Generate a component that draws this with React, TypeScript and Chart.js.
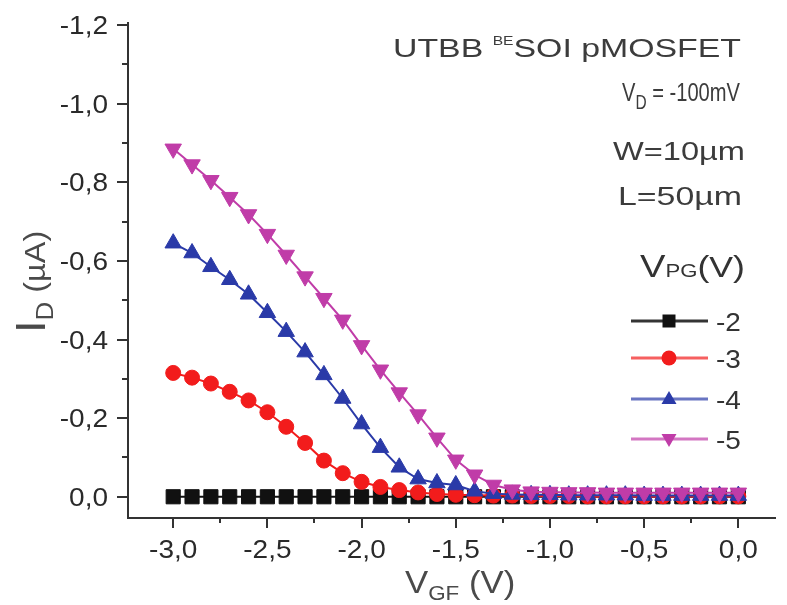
import React, { useEffect, useRef } from "react";
import { Chart, registerables } from "chart.js";

Chart.register(...registerables);

// V_GF (V)
const xValues = [
  -3.0, -2.9, -2.8, -2.7, -2.6, -2.5, -2.4, -2.3, -2.2, -2.1, -2.0,
  -1.9, -1.8, -1.7, -1.6, -1.5, -1.4, -1.3, -1.2, -1.1, -1.0,
  -0.9, -0.8, -0.7, -0.6, -0.5, -0.4, -0.3, -0.2, -0.1, 0.0,
];

// I_D (µA) for each V_PG
const idVpgMinus2 = [
  0, 0, 0, 0, 0, 0, 0, 0, 0, 0, 0,
  0, 0, 0, 0, 0, 0, 0, 0, 0, 0,
  0, 0, 0, 0, 0, 0, 0, 0, 0, 0,
];
const idVpgMinus3 = [
  -0.315, -0.303, -0.288, -0.267, -0.245, -0.215, -0.178, -0.137, -0.092, -0.06, -0.038,
  -0.025, -0.017, -0.011, -0.007, -0.005, -0.004, -0.003, -0.003, -0.002, -0.002,
  -0.002, -0.001, -0.001, -0.001, -0.001, -0.001, -0.001, -0.001, -0.001, -0.001,
];
const idVpgMinus4 = [
  -0.645, -0.62, -0.585, -0.552, -0.515, -0.468, -0.42, -0.368, -0.31, -0.25, -0.185,
  -0.125, -0.075, -0.045, -0.035, -0.03, -0.014, -0.008, -0.006, -0.005, -0.005,
  -0.004, -0.004, -0.004, -0.004, -0.003, -0.003, -0.003, -0.003, -0.003, -0.003,
];
const idVpgMinus5 = [
  -0.885, -0.845, -0.805, -0.762, -0.718, -0.668, -0.615, -0.56, -0.505, -0.45, -0.385,
  -0.323, -0.265, -0.209, -0.15, -0.094, -0.056, -0.03, -0.018, -0.013, -0.012,
  -0.011, -0.011, -0.01, -0.01, -0.01, -0.01, -0.01, -0.01, -0.01, -0.01,
];

const seriesLabels = ["-2", "-3", "-4", "-5"];
const seriesColors = ["#111111", "#f21c1c", "#2a3aa8", "#c03ca8"];

const yMajorTicks = [-1.2, -1.0, -0.8, -0.6, -0.4, -0.2, 0.0];
const yTickLabels = ["-1,2", "-1,0", "-0,8", "-0,6", "-0,4", "-0,2", "0,0"];
const yMinorTicks = [-1.1, -0.9, -0.7, -0.5, -0.3, -0.1];
const xMajorTicks = [-3.0, -2.5, -2.0, -1.5, -1.0, -0.5, 0.0];
const xTickLabels = ["-3,0", "-2,5", "-2,0", "-1,5", "-1,0", "-0,5", "0,0"];
const xMinorTicks = [-2.75, -2.25, -1.75, -1.25, -0.75, -0.25];

const FONT = '"Liberation Sans", Arial, sans-serif';

type Part = { t: string; size: number; dy?: number };

function partsWidth(ctx: CanvasRenderingContext2D, parts: Part[]) {
  let w = 0;
  for (const p of parts) {
    ctx.font = `${p.size}px ${FONT}`;
    w += ctx.measureText(p.t).width;
  }
  return w;
}

// draws a run of text pieces on a baseline; stretch is horizontal scale
function drawRich(
  ctx: CanvasRenderingContext2D,
  parts: Part[],
  x: number,
  y: number,
  align: "left" | "right" | "center",
  color: string,
  stretch: number
) {
  const w = partsWidth(ctx, parts) * stretch;
  let start = x;
  if (align === "right") start = x - w;
  if (align === "center") start = x - w / 2;
  ctx.save();
  ctx.fillStyle = color;
  ctx.textAlign = "left";
  ctx.textBaseline = "alphabetic";
  ctx.translate(start, y);
  ctx.scale(stretch, 1);
  let cx = 0;
  for (const p of parts) {
    ctx.font = `${p.size}px ${FONT}`;
    ctx.fillText(p.t, cx, p.dy || 0);
    cx += ctx.measureText(p.t).width;
  }
  ctx.restore();
}

function drawFit(
  ctx: CanvasRenderingContext2D,
  parts: Part[],
  right: number,
  y: number,
  width: number,
  color: string
) {
  const nat = partsWidth(ctx, parts);
  drawRich(ctx, parts, right, y, "right", color, width / nat);
}

function drawMarker(ctx: CanvasRenderingContext2D, kind: number, x: number, y: number, color: string) {
  ctx.save();
  ctx.fillStyle = color;
  ctx.beginPath();
  if (kind === 0) {
    ctx.rect(x - 6.5, y - 6.5, 13, 13);
  } else if (kind === 1) {
    ctx.arc(x, y, 7.5, 0, Math.PI * 2);
  } else if (kind === 2) {
    ctx.moveTo(x, y - 8);
    ctx.lineTo(x + 7.5, y + 5);
    ctx.lineTo(x - 7.5, y + 5);
    ctx.closePath();
  } else {
    ctx.moveTo(x, y + 8);
    ctx.lineTo(x + 7.5, y - 5);
    ctx.lineTo(x - 7.5, y - 5);
    ctx.closePath();
  }
  ctx.fill();
  ctx.restore();
}

const decorPlugin = {
  id: "decor",
  beforeDraw(chart: any) {
    const ctx = chart.ctx as CanvasRenderingContext2D;
    ctx.save();
    ctx.fillStyle = "#ffffff";
    ctx.fillRect(0, 0, chart.width, chart.height);
    ctx.restore();
  },
  afterDraw(chart: any) {
    const ctx = chart.ctx as CanvasRenderingContext2D;
    const xs = chart.scales.x;
    const ys = chart.scales.y;
    const area = chart.chartArea;
    const axisColor = "#333333";
    const tickText = "#2a2a2a";

    ctx.save();
    ctx.strokeStyle = axisColor;
    ctx.lineWidth = 2;
    // axis lines
    ctx.beginPath();
    ctx.moveTo(area.left, area.top - 3);
    ctx.lineTo(area.left, area.bottom + 1);
    ctx.moveTo(area.left - 1, area.bottom);
    ctx.lineTo(area.right, area.bottom);
    ctx.stroke();
    // ticks
    ctx.beginPath();
    for (const v of yMajorTicks) {
      const py = Math.round(ys.getPixelForValue(v));
      ctx.moveTo(area.left - 11, py);
      ctx.lineTo(area.left, py);
    }
    for (const v of yMinorTicks) {
      const py = Math.round(ys.getPixelForValue(v));
      ctx.moveTo(area.left - 6, py);
      ctx.lineTo(area.left, py);
    }
    for (const v of xMajorTicks) {
      const px = Math.round(xs.getPixelForValue(v));
      ctx.moveTo(px, area.bottom);
      ctx.lineTo(px, area.bottom + 10);
    }
    for (const v of xMinorTicks) {
      const px = Math.round(xs.getPixelForValue(v));
      ctx.moveTo(px, area.bottom);
      ctx.lineTo(px, area.bottom + 5);
    }
    ctx.stroke();
    ctx.restore();

    // tick labels
    yMajorTicks.forEach((v, i) => {
      const py = ys.getPixelForValue(v);
      drawRich(ctx, [{ t: yTickLabels[i], size: 25 }], area.left - 20, py + 9, "right", tickText, 1.12);
    });
    xMajorTicks.forEach((v, i) => {
      const px = xs.getPixelForValue(v);
      drawRich(ctx, [{ t: xTickLabels[i], size: 25 }], px, area.bottom + 40, "center", tickText, 1.12);
    });

    // axis titles
    const titleColor = "#4a4a4a";
    drawRich(
      ctx,
      [{ t: "V", size: 31 }, { t: "GF", size: 20, dy: 7 }, { t: " (V)", size: 31 }],
      405,
      593,
      "left",
      titleColor,
      1.12
    );
    ctx.save();
    ctx.translate(45, 333);
    ctx.rotate(-Math.PI / 2);
    drawRich(
      ctx,
      [{ t: "I", size: 42 }, { t: "D", size: 24, dy: 8 }, { t: " (\u00b5A)", size: 30 }],
      0,
      0,
      "left",
      titleColor,
      1.08
    );
    ctx.restore();

    // annotations
    const noteColor = "#3c3c3c";
    drawFit(ctx, [{ t: "UTBB ", size: 26 }, { t: "BE", size: 12, dy: -12 }, { t: "SOI pMOSFET", size: 26 }], 741, 57, 348, noteColor);
    drawFit(ctx, [{ t: "V", size: 26 }, { t: "D", size: 20, dy: 8 }, { t: " = -100mV", size: 26 }], 740, 101, 118, noteColor);
    drawFit(ctx, [{ t: "W=10\u00b5m", size: 26 }], 745, 160, 132, noteColor);
    drawFit(ctx, [{ t: "L=50\u00b5m", size: 26 }], 742, 205, 124, noteColor);
    drawFit(ctx, [{ t: "V", size: 31 }, { t: "PG", size: 18 }, { t: "(V)", size: 29 }], 745, 277, 105, "#333333");

    // legend
    const rowsY = [321, 358, 399, 439];
    seriesLabels.forEach((lab, i) => {
      const y = rowsY[i];
      ctx.save();
      ctx.strokeStyle = seriesColors[i];
      ctx.globalAlpha = i === 0 ? 0.85 : 0.7;
      ctx.lineWidth = 3;
      ctx.beginPath();
      ctx.moveTo(631, y);
      ctx.lineTo(708, y);
      ctx.stroke();
      ctx.restore();
      drawMarker(ctx, i, 669, y, seriesColors[i]);
      drawRich(ctx, [{ t: lab, size: 25 }], 716, y + 10, "left", "#333333", 1.12);
    });
  },
};

export default function App() {
  const ref = useRef<HTMLCanvasElement | null>(null);
  useEffect(() => {
    document.body.style.margin = "0";
    const canvas = ref.current;
    if (!canvas) return;
    const series = [idVpgMinus2, idVpgMinus3, idVpgMinus4, idVpgMinus5];
    const styles = ["rect", "circle", "triangle", "triangle"];
    const radii = [10, 7.5, 9.5, 9.5];
    const rotations = [0, 0, 0, 180];
    const orders = [4, 3, 2, 1];
    const chart = new Chart(canvas, {
      type: "line",
      data: {
        datasets: series.map((s, i) => ({
          label: seriesLabels[i],
          data: xValues.map((x, j) => ({ x, y: s[j] })),
          borderColor: seriesColors[i],
          backgroundColor: seriesColors[i],
          borderWidth: 2,
          pointStyle: styles[i] as any,
          pointRadius: radii[i],
          pointRotation: rotations[i],
          pointBorderWidth: 1,
          pointBorderColor: seriesColors[i],
          pointBackgroundColor: seriesColors[i],
          tension: 0,
          order: orders[i],
        })),
      },
      options: {
        responsive: false,
        animation: false,
        layout: { padding: { left: 128, right: 0, top: 25, bottom: 87 } },
        scales: {
          x: { type: "linear", min: -3.24, max: 0.2, display: false },
          y: { type: "linear", min: -1.2, max: 0.054, reverse: true, display: false },
        },
        plugins: { legend: { display: false }, tooltip: { enabled: false } },
      },
      plugins: [decorPlugin],
    });
    return () => chart.destroy();
  }, []);
  return <canvas ref={ref} width={787} height={605} style={{ display: "block" }} />;
}
